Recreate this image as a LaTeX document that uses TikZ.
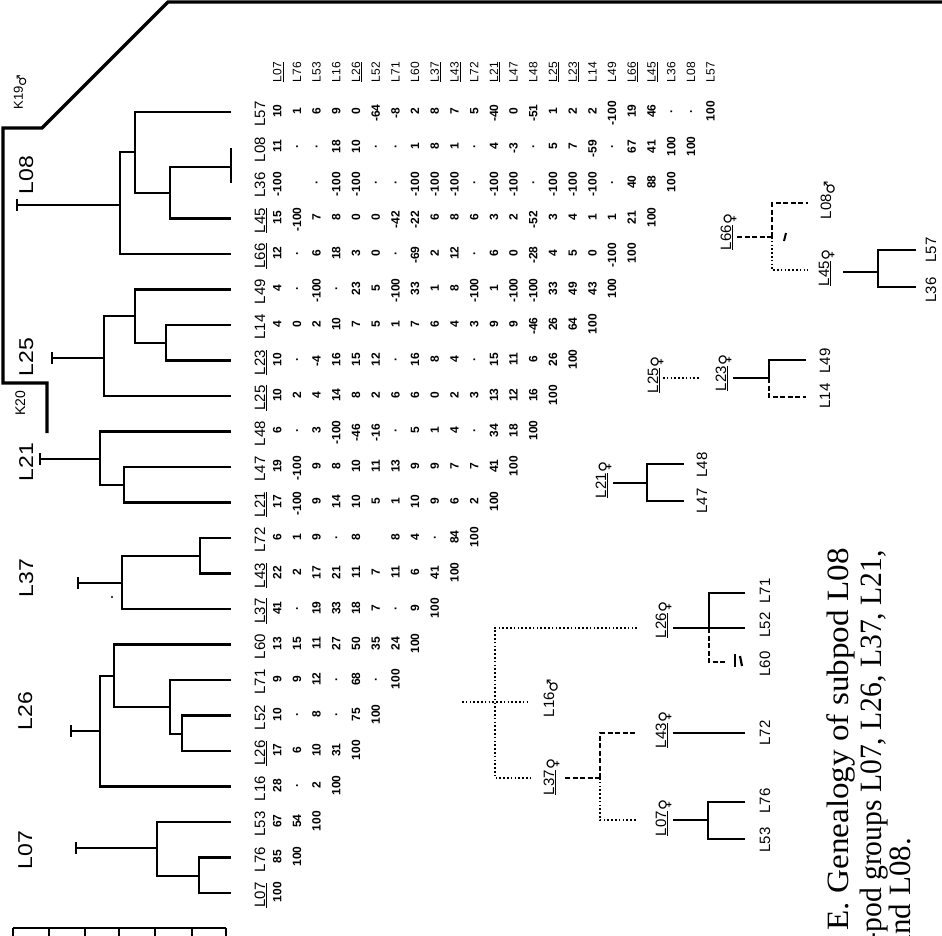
\documentclass[tikz,border=0pt]{standalone}
\usepackage{fontspec}
\setmainfont{Liberation Sans}
\newfontfamily\capfont{Liberation Serif}
\newfontfamily\symfont{DejaVu Sans}
\newcommand\fem{\raisebox{-0.45ex}[0pt][0pt]{\symfont\char"2640}}
\newcommand\mal{\raisebox{-0.45ex}[0pt][0pt]{\symfont\char"2642}}
\newcommand\negv{\llap{-}}
\newcommand\dotv{\textperiodcentered}
\newcommand\fm[1]{\underline{#1}}
\tikzset{
  tree/.style={line width=2.8pt, line join=miter},
  stree/.style={line width=2.8pt},
  dsh/.style={line width=2.8pt, dash pattern=on 5pt off 2.5pt},
  dtd/.style={line width=1.8pt, dash pattern=on 1.6pt off 2.2pt},
  val/.style={rotate=90, anchor=base, inner sep=0pt, font=\bfseries\fontsize{12}{12}\selectfont},
  rowlab/.style={rotate=90, anchor=base, inner sep=0pt, font=\fontsize{15}{15}\selectfont},
  collab/.style={rotate=90, anchor=base, inner sep=0pt, font=\fontsize{12}{12}\selectfont},
  grplab/.style={rotate=90, anchor=base, inner sep=0pt, font=\fontsize{20}{20}\selectfont},
  smlab/.style={rotate=90, anchor=base, inner sep=0pt, font=\fontsize{15}{15}\selectfont},
  caplab/.style={rotate=90, anchor=base east, inner sep=0pt, font=\capfont\fontsize{31}{31}\selectfont},
}
\newcommand\valrow[2]{\foreach \v [count=\j from 0] in {#2} {\node[val] (v#1-\j) at ({281.3+19.7*\j},{111+35.5*#1}) {\v};}}
\begin{document}
\begin{tikzpicture}[x=1pt,y=-1pt]
\path[use as bounding box, fill=white] (0,0) rectangle (942,935);

% leaves
\foreach \r in {0,...,22} \coordinate (lf\r) at (231,{112+35.5*\r});

% row labels
\foreach \t [count=\r from 0] in {L57,L08,L36,\fm{L45},\fm{L66},L49,L14,\fm{L23},\fm{L25},L48,L47,\fm{L21},L72,\fm{L43},\fm{L37},L60,L71,L52,\fm{L26},L16,L53,L76,\fm{L07}}
  \node[rowlab] (rl\r) at (265,{114+35.5*\r}) {\t};

% column header
\foreach \t [count=\j from 0] in {\fm{L07},L76,L53,L16,\fm{L26},L52,L71,L60,\fm{L37},\fm{L43},L72,\fm{L21},L47,L48,\fm{L25},\fm{L23},L14,L49,\fm{L66},\fm{L45},L36,L08,L57}
  \node[collab] (h\j) at ({281.3+19.7*\j},72) {\t};

% matrix values
\valrow{0}{10,1,6,9,0,\negv64,\negv8,2,8,7,5,\negv40,0,\negv51,1,2,2,\negv100,19,46,\dotv,\dotv,100}
\valrow{1}{11,\dotv,\dotv,18,10,\dotv,\dotv,1,8,1,\dotv,4,\negv3,\dotv,5,7,\negv59,\dotv,67,41,100,100}
\valrow{2}{\negv100,{},\dotv,\negv100,\negv100,\dotv,\dotv,\negv100,\negv100,\negv100,\dotv,\negv100,\negv100,\dotv,\negv100,\negv100,\negv100,\dotv,40,88,100}
\valrow{3}{15,\negv100,7,8,0,0,\negv42,\negv22,6,8,6,3,2,\negv52,3,4,1,1,21,100}
\valrow{4}{12,\dotv,6,18,3,0,\dotv,\negv69,2,12,\dotv,6,0,\negv28,4,5,0,\negv100,100}
\valrow{5}{4,\dotv,\negv100,\dotv,23,5,\negv100,33,1,8,\negv100,1,\negv100,\negv100,33,49,43,100}
\valrow{6}{4,0,2,10,7,5,1,7,6,4,3,9,9,\negv46,26,64,100}
\valrow{7}{10,\dotv,\negv4,16,15,12,\dotv,16,8,4,\dotv,15,11,6,26,100}
\valrow{8}{10,2,4,14,8,2,6,6,0,2,3,13,12,16,100}
\valrow{9}{6,\dotv,3,\negv100,\negv46,\negv16,\dotv,5,1,4,\dotv,34,18,100}
\valrow{10}{19,\negv100,9,8,10,11,13,9,9,7,7,41,100}
\valrow{11}{17,\negv100,9,14,10,5,1,10,9,6,2,100}
\valrow{12}{6,1,9,\dotv,8,{},8,4,\dotv,84,100}
\valrow{13}{22,2,17,21,11,7,11,6,41,100}
\valrow{14}{41,\dotv,19,33,18,7,\dotv,9,100}
\valrow{15}{13,15,11,27,50,35,24,100}
\valrow{16}{9,9,12,\dotv,68,\dotv,100}
\valrow{17}{10,\dotv,8,\dotv,75,100}
\valrow{18}{17,6,10,31,100}
\valrow{19}{28,\dotv,2,100}
\valrow{20}{67,54,100}
\valrow{21}{85,100}
\valrow{22}{100}

% ---------- dendrogram ----------
% L08 group
\coordinate (p0) at (231,167);
\coordinate (n1) at (170,193);
\coordinate (n2) at (135,152);
\coordinate (n3) at (120,205);
\coordinate (r1) at (17,205);
\draw[tree] (lf1) -- (lf2);
\draw[tree] (p0) -| (n1) |- (lf3);
\draw[tree] (lf0) -| (n2) |- (n1);
\draw[tree] (n2) -| (n3) |- (lf4);
\draw[tree] (r1) -- (n3);
\draw[tree] ([yshift=6pt]r1) -- ([yshift=-6pt]r1);
% L25 group
\coordinate (n4) at (166,343);
\coordinate (n5) at (135,316);
\coordinate (n6) at (104,358);
\coordinate (r2) at (52,358);
\draw[tree] (lf6) -| (n4) |- (lf7);
\draw[tree] (lf5) -| (n5) |- (n4);
\draw[tree] (n5) -| (n6) |- (lf8);
\draw[tree] (r2) -- (n6);
\draw[tree] ([yshift=6pt]r2) -- ([yshift=-6pt]r2);
% L21 group
\coordinate (n7) at (124,485);
\coordinate (n8) at (100,459);
\coordinate (r3) at (40,459);
\draw[tree] (lf10) -| (n7) |- (lf11);
\draw[tree] (lf9) -| (n8) |- (n7);
\draw[tree] (r3) -- (n8);
\draw[tree] ([yshift=6pt]r3) -- ([yshift=-6pt]r3);
% L37 group
\coordinate (n9) at (200,556);
\coordinate (n10) at (122,583);
\coordinate (r4) at (78,583);
\draw[tree] (lf12) -| (n9) |- (lf13);
\draw[tree] (n9) -| (n10) |- (lf14);
\draw[tree] (r4) -- (n10);
\draw[tree] ([yshift=6pt]r4) -- ([yshift=-6pt]r4);
\fill (112,597) circle (1.2pt);
% L26 group
\coordinate (n11) at (182,734);
\coordinate (n12) at (170,707);
\coordinate (n13) at (114,676);
\coordinate (n14) at (100,731);
\coordinate (r5) at (71,731);
\draw[tree] (lf17) -| (n11) |- (lf18);
\draw[tree] (lf16) -| (n12) |- (n11);
\draw[tree] (lf15) -| (n13) |- (n12);
\draw[tree] (n13) -| (n14) |- (lf19);
\draw[tree] (r5) -- (n14);
\draw[tree] ([yshift=6pt]r5) -- ([yshift=-6pt]r5);
% L07 group
\coordinate (n15) at (199,876);
\coordinate (n16) at (157,848);
\coordinate (r6) at (76,848);
\draw[tree] (lf21) -| (n15) |- (lf22);
\draw[tree] (lf20) -| (n16) |- (n15);
\draw[tree] (r6) -- (n16);
\draw[tree] ([yshift=6pt]r6) -- ([yshift=-6pt]r6);

% group labels
\node[grplab] (gL08) at (33,175) {\scalebox{1.15}[1]{L08}};
\node[grplab] (gL25) at (33,357) {\scalebox{1.15}[1]{L25}};
\node[grplab] (gL21) at (33,462) {\scalebox{1.15}[1]{L21}};
\node[grplab] (gL37) at (33,578) {\scalebox{1.15}[1]{L37}};
\node[grplab] (gL26) at (32,711) {\scalebox{1.15}[1]{L26}};
\node[grplab] (gL07) at (32,850) {\scalebox{1.15}[1]{L07}};

% K19 / K20 lineage
\coordinate (k20b) at (47,433);
\coordinate (k20r) at (47,383);
\coordinate (k20l) at (3,383);
\coordinate (k19a) at (3,128);
\coordinate (k19b) at (42,128);
\coordinate (k19c) at (168,2);
\coordinate (k19d) at (945,2);
\draw[line width=3.2pt, line join=miter] (k20b) -- (k20r) -- (k20l) -- (k19a) -- (k19b) -- (k19c) -- (k19d);
\node[rowlab, font=\fontsize{14}{14}\selectfont] (k20) at (25,403) {K20};
\node[rowlab, font=\fontsize{13}{13}\selectfont] (k19) at (23,92) {K19\mal};

% scale bar
\coordinate (sbL) at (13,928);
\coordinate (sbR) at (226,928);
\draw[line width=2.4pt] (sbL) -- (sbR);
\foreach \x in {13,49,85,119,155,192,226} \draw[line width=2pt] (\x,928) -- (\x,937);

% ---------- small genealogies ----------
% L66 / L08 / L45
\coordinate (t66r) at (737,237);
\coordinate (t66j) at (772,237);
\coordinate (t66a) at (808,203);
\coordinate (t66b) at (808,270);
\draw[dsh] (t66r) -- (t66j);
\draw[dsh] (t66j) |- (t66a);
\draw[dtd] (t66j) |- (t66b);
\draw[line width=2pt] (784,241) -- (786,233);
\node[smlab] (sL66) at (731,232) {\fm{L66}\fem};
\node[smlab] (sL08) at (831,200) {L08\mal};
\node[smlab] (sL45) at (829,268) {\fm{L45}\fem};
\coordinate (t45r) at (843,272);
\coordinate (t45j) at (878,272);
\coordinate (t45a) at (916,250);
\coordinate (t45b) at (916,287);
\draw[stree] (t45r) -- (t45j);
\draw[stree] (t45a) -| (t45j) |- (t45b);
\node[smlab] (sL57) at (936,250) {L57};
\node[smlab] (sL36) at (936,290) {L36};

% L25 / L23
\node[smlab] (sL25) at (658,375) {\fm{L25}\fem};
\node[smlab] (sL23) at (726,373) {\fm{L23}\fem};
\coordinate (t25a) at (663,378);
\coordinate (t25b) at (700,378);
\draw[dtd] (t25a) -- (t25b);
\coordinate (t23r) at (733,378);
\coordinate (t23j) at (769,378);
\coordinate (t23a) at (806,360);
\coordinate (t23b) at (806,397);
\draw[stree] (t23r) -- (t23j);
\draw[stree] (t23j) |- (t23a);
\draw[dsh] (t23j) |- (t23b);
\node[smlab] (sL49) at (830,361) {L49};
\node[smlab] (sL14) at (830,396) {L14};

% L21
\node[smlab] (sL21) at (606,480) {\fm{L21}\fem};
\coordinate (t21r) at (613,483);
\coordinate (t21j) at (647,483);
\coordinate (t21a) at (684,464);
\coordinate (t21b) at (684,501);
\draw[stree] (t21r) -- (t21j);
\draw[stree] (t21a) -| (t21j) |- (t21b);
\node[smlab] (sL48) at (707,465) {L48};
\node[smlab] (sL47) at (707,501) {L47};

% L16 tree
\node[smlab] (sL16) at (554,698) {L16\mal};
\coordinate (t16r) at (462,702);
\coordinate (t16e) at (530,702);
\coordinate (t16v) at (495,702);
\coordinate (t16a) at (637,628);
\coordinate (t16b) at (532,778);
\draw[dtd] (t16r) -- (t16e);
\draw[dtd] (t16a) -| (t16v) |- (t16b);
\node[smlab] (sL37) at (554,777) {\fm{L37}\fem};
\coordinate (t37r) at (565,778);
\coordinate (t37j) at (600,778);
\coordinate (t37a) at (637,733);
\coordinate (t37b) at (637,820);
\draw[dsh] (t37r) -- (t37j);
\draw[dsh] (t37j) |- (t37a);
\draw[dtd] (t37j) |- (t37b);
\node[smlab] (sL43) at (666,730) {\fm{L43}\fem};
\coordinate (t43r) at (673,733);
\coordinate (t43a) at (745,733);
\draw[stree] (t43r) -- (t43a);
\node[smlab] (sL72) at (770,733) {L72};
\node[smlab] (sL07) at (666,818) {\fm{L07}\fem};
\coordinate (t07r) at (673,820);
\coordinate (t07j) at (708,820);
\coordinate (t07a) at (745,802);
\coordinate (t07b) at (745,839);
\draw[stree] (t07r) -- (t07j);
\draw[stree] (t07a) -| (t07j) |- (t07b);
\node[smlab] (sL76) at (770,801) {L76};
\node[smlab] (sL53) at (770,840) {L53};
\node[smlab] (sL26) at (666,620) {\fm{L26}\fem};
\coordinate (t26r) at (673,628);
\coordinate (t26j) at (709,628);
\coordinate (t26m) at (745,628);
\coordinate (t26a) at (745,593);
\coordinate (t26b) at (727,662);
\draw[stree] (t26r) -- (t26m);
\draw[stree] (t26j) |- (t26a);
\draw[dsh] (t26j) |- (t26b);
\draw[line width=2.2pt] (735,654) -- (735,667);
\draw[line width=2.2pt] (740,656) -- (742,666);
\node[smlab] (sL71) at (770,591) {L71};
\node[smlab] (sL52) at (770,625) {L52};
\node[smlab] (sL60) at (770,664) {L60};

% caption
\node[caplab] (cap1) at (848,548) {\scalebox{1.07}[1]{E. Genealogy of subpod L08}};
\node[caplab] (cap2) at (881,550) {\scalebox{0.955}[1]{-pod groups L07, L26, L37, L21,}};
\node[caplab] (cap3) at (910,838) {and L08.};
\end{tikzpicture}
\end{document}
